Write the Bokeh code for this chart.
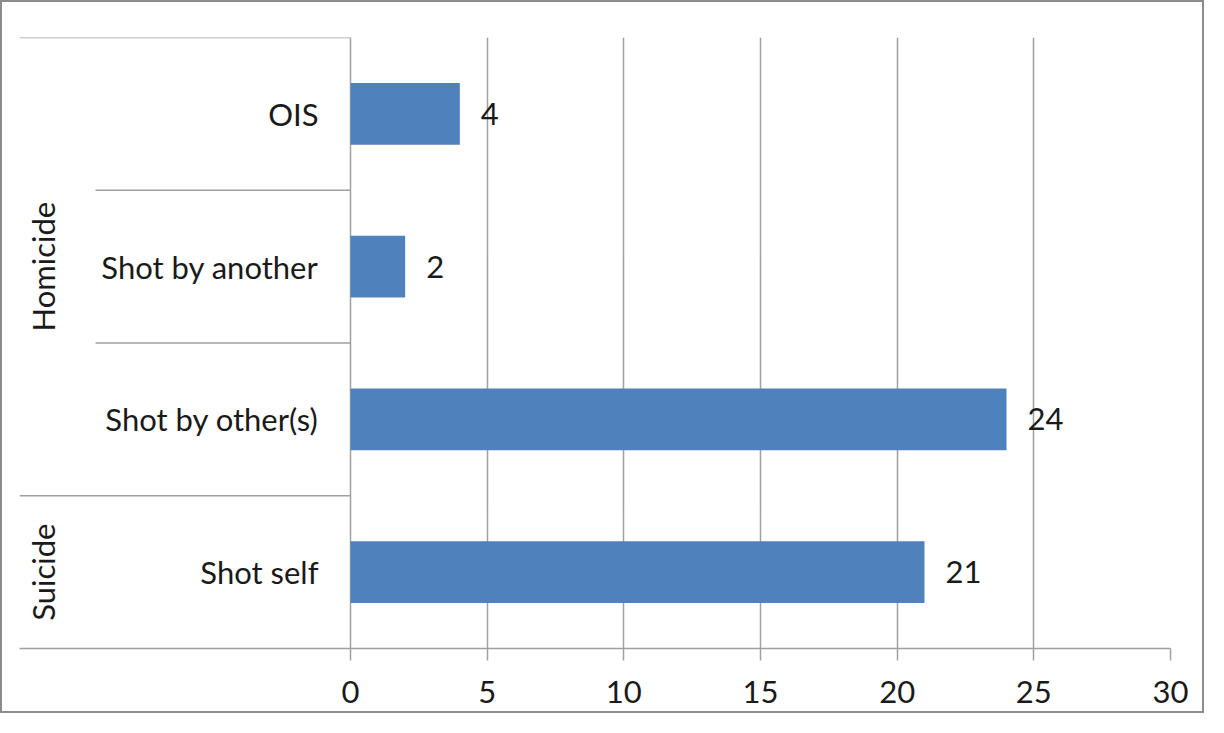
import math
from bokeh.plotting import figure
from bokeh.models import Range1d, FixedTicker, ColumnDataSource
from bokeh.core.properties import value
from bokeh.embed import file_html
from bokeh.resources import INLINE

# ---- data (bottom to top) ----
categories = ["Shot self", "Shot by other(s)", "Shot by another", "OIS"]
groups = ["Suicide", "Homicide", "Homicide", "Homicide"]
counts = [21, 24, 2, 4]
x_ticks = [0, 5, 10, 15, 20, 25, 30]

# ---- layout constants (pixels) ----
W, H = 1204, 713
FRAME_L, FRAME_R, FRAME_T, FRAME_B = 17, 1168, 35, 646
ZERO_PX = 348
X_MAX = 30
PPU = (FRAME_R - ZERO_PX) / X_MAX
X_MIN = -(ZERO_PX - FRAME_L) / PPU
INNER_SEP = -(ZERO_PX - 93) / PPU

FONT = value("Lato")
FS = "31px"
TXT = "#1a1a1a"
GRID = "#a0a0a0"
BAR = "#4f81bd"

p = figure(width=W, height=H, x_range=Range1d(X_MIN, X_MAX), y_range=Range1d(0, len(categories)),
           output_backend="svg", toolbar_location=None, y_axis_location=None,
           min_border_left=FRAME_L, min_border_right=W - FRAME_R,
           min_border_top=FRAME_T, min_border_bottom=H - FRAME_B)
p.title.visible = False
p.outline_line_color = None
p.background_fill_color = "white"
p.border_fill_color = "white"
p.styles = {"border": "2px solid #8c8c8c"}

p.xgrid.ticker = FixedTicker(ticks=x_ticks)
p.xgrid.grid_line_color = GRID
p.xgrid.grid_line_width = 1.5
p.ygrid.visible = False

ax = p.xaxis[0]
ax.ticker = FixedTicker(ticks=x_ticks)
ax.axis_line_color = GRID
ax.axis_line_width = 1.5
ax.major_tick_line_color = GRID
ax.major_tick_line_width = 1.5
ax.major_tick_out = 12
ax.major_tick_in = 0
ax.minor_tick_line_color = None
ax.major_label_text_font = "Lato"
ax.major_label_text_font_size = FS
ax.major_label_text_color = TXT
ax.major_label_standoff = 20

ypos = [i + 0.5 for i in range(len(categories))]
src = ColumnDataSource(dict(y=ypos, v=counts, cat=categories,
                            lab=[str(c) for c in counts], zero=[0] * len(counts)))

p.hbar(y="y", left=0, right="v", height=0.405, source=src, fill_color=BAR, line_color=None)

p.text(x="v", y="y", text="lab", source=src, x_offset=21, text_align="left",
       text_baseline="middle", text_font=FONT, text_font_size=FS, text_color=TXT)
p.text(x="zero", y="y", text="cat", source=src, x_offset=-32, text_align="right",
       text_baseline="middle", text_font=FONT, text_font_size=FS, text_color=TXT)

# group labels
gnames, gcent = [], []
for g in dict.fromkeys(groups):
    idx = [i for i, gg in enumerate(groups) if gg == g]
    gnames.append(g)
    gcent.append((min(idx) + max(idx) + 1) / 2)
p.text(x=[X_MIN] * len(gnames), y=gcent, text=gnames, x_offset=23, angle=math.pi / 2,
       text_align="center", text_baseline="middle", text_font=FONT, text_font_size=FS,
       text_color=TXT)

# category-axis separators
x0s, ys = [], []
for i in range(1, len(categories)):
    x0s.append(X_MIN if groups[i] != groups[i - 1] else INNER_SEP)
    ys.append(i)
x0s.append(X_MIN)
ys.append(len(categories))
p.segment(x0=x0s, y0=ys, x1=[0] * len(ys), y1=ys, line_color=GRID, line_width=1.5)

open("out.html", "w").write(file_html(p, INLINE))
